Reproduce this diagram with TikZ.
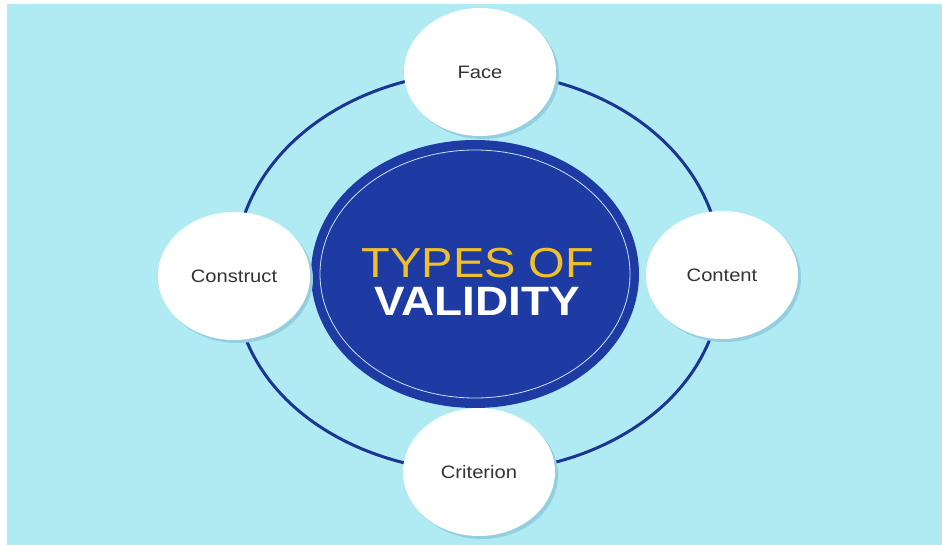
\documentclass[tikz,border=0pt]{standalone}
\usepackage{fontspec}
\setmainfont[FakeStretch=1.12]{Liberation Sans}
\usepackage{tikz}
\usetikzlibrary{shapes.geometric,shadows,backgrounds}

\definecolor{skybg}{HTML}{B0EBF4}
\definecolor{shadowblue}{HTML}{94CFDF}
\definecolor{ringblue}{HTML}{1B3592}
\definecolor{coreblue}{HTML}{1E3AA3}
\definecolor{corelinecol}{HTML}{C8E4F6}
\definecolor{titleyellow}{HTML}{F0C02C}
\definecolor{labelgrey}{HTML}{333333}

\begin{document}
\begin{tikzpicture}[x=1pt, y=-1pt,
    kind/.style={ellipse, fill=white, minimum width=152pt, minimum height=128pt,
      inner sep=0pt, text=labelgrey, font=\fontsize{18}{20}\selectfont,
      drop shadow={shadow xshift=3pt, shadow yshift=-3pt, fill=shadowblue, opacity=1}},
    core/.style={ellipse, fill=coreblue, minimum width=328pt, minimum height=268pt,
      inner sep=0pt},
    ring/.style={draw=ringblue, line width=3pt},
    coreline/.style={draw=corelinecol, line width=0.8pt},
    title/.style={anchor=base, inner sep=0pt},
  ]
    \useasboundingbox (0,0) rectangle (942,545);

    % centre
    \node[core] (core) at (475,274) {};
    \draw[coreline] (core.center) ellipse [x radius=155pt, y radius=124pt];
    \node[title, text=titleyellow, font=\fontsize{42}{44}\selectfont] (types) at (478,277) {TYPES OF};
    \node[title, text=white, font=\fontsize{41}{43}\selectfont\bfseries] (validity) at (477,315) {VALIDITY};

    % the four kinds
    \node[kind] (face) at (480,72) {Face};
    \node[kind] (content) at (722,275) {Content};
    \node[kind] (criterion) at (479,472) {Criterion};
    \node[kind] (construct) at (234,276) {Construct};

    % ring behind the kinds
    \begin{pgfonlayer}{background}
      \fill[skybg] (7,4) rectangle (942,545);
      \draw[ring] (face.center) to[out=0, in=90] (content.center)
        to[out=-90, in=0] (criterion.center)
        to[out=180, in=-90] (construct.center)
        to[out=90, in=180] (face.center);
    \end{pgfonlayer}
  \end{tikzpicture}
\end{document}
